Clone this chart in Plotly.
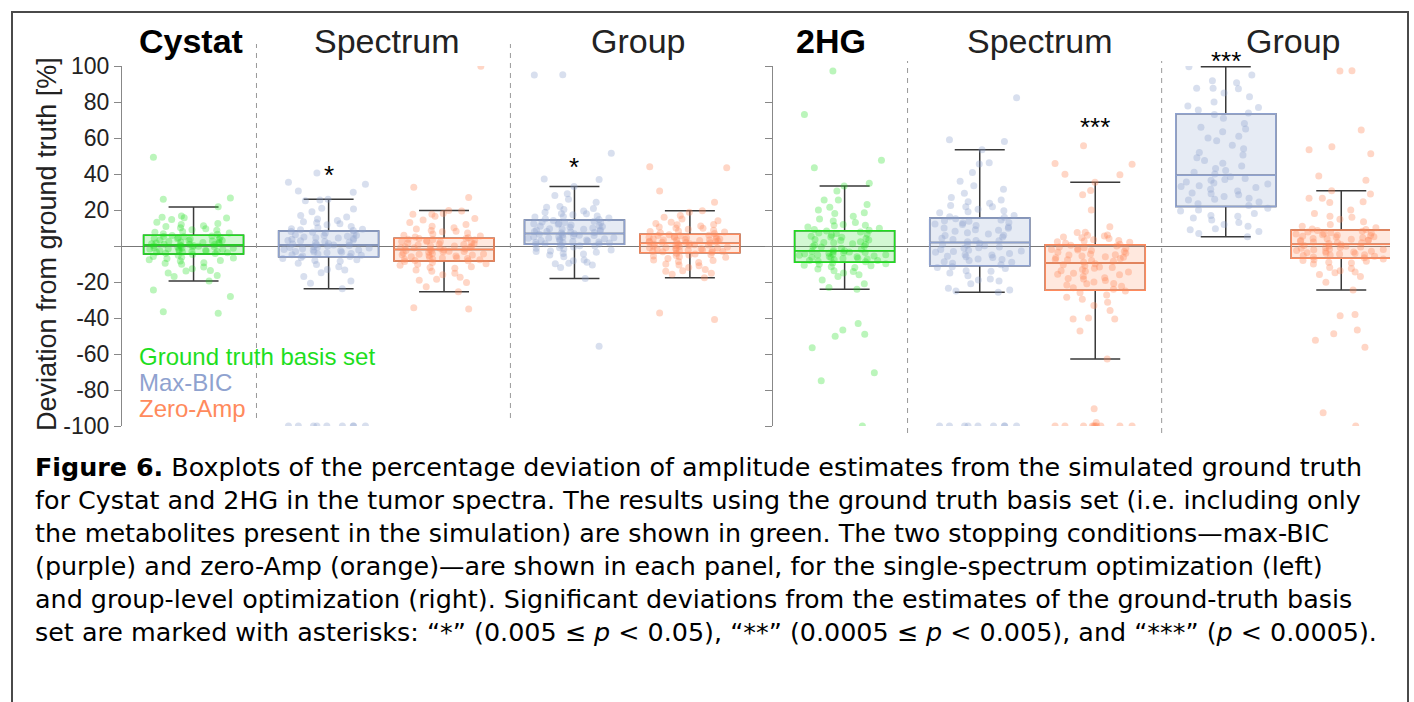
import plotly.graph_objects as go

# ---------------- data ----------------
metabolites = ["Cystat", "2HG"]
conditions = ["Ground truth basis set", "Max-BIC", "Zero-Amp"]
groups = ["GT", "Spectrum Max-BIC", "Spectrum Zero-Amp", "Group Max-BIC", "Group Zero-Amp"]

# box statistics: Cystat (5 boxes) then 2HG (5 boxes)
q1_vals = [-4.4, -6.0, -8.3, 1.0, -3.7, -9.0, -11.0, -24.6, 21.9, -6.8]
med_vals = [0.5, 0.5, -2.0, 7.0, 1.5, -2.6, 1.9, -9.4, 39.3, 1.0]
q3_vals = [6.0, 8.3, 4.3, 14.4, 6.5, 8.5, 15.6, 0.7, 73.5, 8.9]
lo_vals = [-19.4, -23.7, -25.4, -18.0, -17.6, -24.0, -25.7, -62.8, 5.2, -24.4]
hi_vals = [21.7, 26.0, 19.7, 33.0, 19.6, 33.3, 53.5, 35.4, 99.6, 30.7]
sig_labels = ["", "*", "", "*", "", "", "", "***", "***", ""]

cys_gt = [49.3, 26.7, 26.0, 21.8, 16.7, 16.0, 15.7, 15.5, 14.7, 13.2, 12.5, 12.0, 11.3, 10.8, 10.1, 9.6,
          9.0, 8.7, 8.1, 7.6, 7.2, 6.8, 6.5,
          5.8, 5.5, 5.1, 4.9, 4.6, 4.2, 3.9, 3.6, 3.3, 3.0, 2.8, 2.5, 2.2, 1.9, 1.7, 1.4, 1.2, 1.0, 0.8,
          0.6, 5.3, 4.0, 2.0, 3.1, 0.9,
          0.3, 0.1, -0.2, -0.5, -0.7, -1.0, -1.2, -1.5, -1.8, -2.0, -2.3, -2.5, -2.8, -3.0, -3.3, -3.5,
          -3.8, -4.0, -4.2, -0.4, -1.6, -2.6, -3.1, 0.0, -1.1,
          -4.7, -5.2, -5.8, -6.3, -7.0, -7.6, -8.4, -9.3, -9.6, -10.2, -11.6, -12.7, -13.6, -13.9, -15.0,
          -16.4, -17.0, -19.4, -6.6, -8.0, -24.4, -28.0, -37.3, -36.5]
cys_spec_bic = [40.6, 35.4, 34.3, 30.5, 29.8, 26.0, 25.2, 25.5, 21.0, 20.5, 17.0, 15.0, 14.2, 13.5, 12.4,
                11.8, 10.9, 10.2, 9.6, 9.0, 8.6, 12.9, 16.1, 19.0, 9.3,
                8.1, 7.6, 7.2, 6.8, 6.3, 5.9, 5.4, 5.0, 4.6, 4.1, 3.7, 3.3, 2.9, 2.5, 2.1, 1.8, 1.4, 1.1,
                0.8, 0.6, 6.0, 3.0, 4.4,
                0.3, 0.0, -0.4, -0.8, -1.1, -1.5, -1.9, -2.2, -2.6, -3.0, -3.3, -3.7, -4.1, -4.5, -4.8,
                -5.2, -5.6, -5.9, -0.9, -2.4, -3.5,
                -6.4, -7.0, -7.7, -8.5, -9.6, -10.3, -11.5, -13.3, -13.0, -14.8, -17.0, -19.4, -20.7,
                -23.7, -8.0, -100, -100, -100, -100, -100, -100, -100, -100, -100]
cys_spec_zero = [99.8, 32.6, 27.0, 19.7, 19.5, 18.1, 17.6, 17.7, 16.5, 14.5, 13.0, 12.0, 11.0, 10.2, 9.5,
                 8.6, 7.9, 7.2, 6.6, 6.0, 5.5, 5.0, 4.6, 15.3, 8.2,
                 4.1, 3.8, 3.4, 3.0, 2.7, 2.3, 2.0, 1.6, 1.3, 0.9, 0.6, 0.2, -0.1, -0.4, -0.7, -1.0, -1.3,
                 -1.6, -1.8, 2.5, 0.0, 3.6, -0.9, 1.1, 4.2,
                 -2.2, -2.5, -2.9, -3.2, -3.5, -3.9, -4.2, -4.6, -4.9, -5.3, -5.6, -6.0, -6.3, -6.7, -7.0,
                 -7.4, -7.7, -8.0, -8.2, -3.0, -5.0, -6.5, -4.4, -2.7, -7.2,
                 -8.6, -9.2, -9.9, -10.7, -11.5, -12.4, -13.3, -15.2, -16.0, -17.4, -18.5, -20.3, -22.6,
                 -25.4, -10.1, -12.0, -14.0, -19.0, -34.3, -35.0]
cys_grp_bic = [95.2, 95.0, 51.5, 37.2, 36.9, 33.0, 29.0, 28.0, 24.3, 22.0, 21.5, 20.3, 19.5, 18.7, 17.9,
               17.3, 16.7, 16.1, 15.6, 15.1, 14.7, 26.0, 18.0, 20.9, 16.4,
               14.1, 13.7, 13.3, 12.9, 12.5, 12.1, 11.7, 11.2, 10.8, 10.4, 10.0, 9.6, 9.3, 9.0, 8.7, 8.4,
               8.1, 7.8, 7.5, 7.2, 13.0, 11.0, 9.5, 8.0, 12.3,
               6.8, 6.5, 6.2, 5.9, 5.6, 5.2, 4.9, 4.6, 4.3, 4.0, 3.7, 3.4, 3.1, 2.8, 2.5, 2.2, 1.9, 1.6,
               1.3, 1.1, 5.0, 3.0, 2.0, 4.4, 6.0,
               0.8, 0.4, 0.0, -0.5, -1.0, -1.6, -2.2, -3.0, -4.1, -4.5, -5.0, -7.8, -8.2, -9.6, -9.9,
               -10.5, -12.0, -18.0, -55.7, -6.0, -3.5, -2.8, -9.0, -1.3, 0.2]
cys_grp_zero = [44.0, 43.5, 30.5, 24.3, 19.6, 18.7, 16.0, 15.0, 14.0, 13.2, 12.5, 11.8, 11.1, 10.5, 9.9,
                9.3, 8.8, 8.3, 7.8, 7.3, 6.9, 12.0, 10.0, 8.0, 17.0,
                6.3, 6.0, 5.7, 5.4, 5.1, 4.8, 4.5, 4.2, 3.9, 3.6, 3.4, 3.2, 3.0, 2.8, 2.6, 2.4, 2.2, 2.0,
                1.8, 1.6, 5.9, 4.0, 3.3, 2.1, 4.9,
                1.3, 1.0, 0.7, 0.4, 0.1, -0.2, -0.5, -0.8, -1.1, -1.4, -1.7, -2.0, -2.3, -2.6, -2.9, -3.2,
                -3.5, -0.3, -1.0, -2.1, 0.9, -3.0, -1.5, 0.5, -2.5,
                -4.0, -4.5, -5.0, -5.6, -6.3, -7.0, -7.8, -8.6, -10.0, -10.5, -12.0, -13.7, -14.0, -15.2,
                -15.7, -17.6, -37.2, -40.9, -6.0, -9.2, -11.0, -4.8, -8.0, -13.0, -5.3]
hg_gt = [97.2, 73.1, 47.6, 43.5, 34.8, 33.3, 30.5, 25.5, 25.5, 23.0, 21.5, 18.5, 18.0, 16.5, 13.9, 13.0,
         12.0, 11.2, 10.5, 9.8, 9.2, 8.8, 20.0, 15.0, 11.5,
         8.3, 7.8, 7.2, 6.6, 6.0, 5.4, 4.8, 4.2, 3.6, 3.0, 2.4, 1.8, 1.2, 0.6, 0.0, -0.6, -1.2, -1.8, -2.3,
         5.0, 2.0, -0.3, 3.3, 6.9, 0.9,
         -2.9, -3.2, -3.6, -4.0, -4.4, -4.8, -5.2, -5.6, -6.0, -6.4, -6.8, -7.2, -7.6, -8.0, -8.4, -8.8,
         -3.4, -5.0, -6.2, -7.0, -4.6, -8.1, -3.8, -5.8, -2.7,
         -9.5, -10.2, -11.0, -12.0, -13.7, -17.0, -18.9, -21.0, -23.0, -24.0, -43.0, -46.7, -50.2, -49.0,
         -56.5, -70.4, -74.8, -100, -10.7, -9.8, -15.0, -11.5, -14.2, -12.8, -16.0]
hg_spec_bic = [82.4, 59.0, 58.1, 53.5, 46.3, 45.5, 40.9, 33.5, 31.5, 29.3, 25.5, 24.6, 23.7, 21.8, 21.8,
               20.4, 19.6, 16.3, 17.0, 16.0, 18.5, 22.5, 27.0, 19.0, 36.0,
               15.2, 14.5, 13.8, 13.0, 12.2, 11.4, 10.6, 9.8, 9.0, 8.2, 7.4, 6.6, 5.8, 5.0, 4.3, 3.6, 2.9,
               2.3, 14.0, 10.0, 6.0, 8.8, 11.9, 3.0, 12.8,
               1.5, 0.8, 0.1, -0.6, -1.3, -2.0, -2.8, -3.5, -4.2, -5.0, -5.7, -6.4, -7.2, -8.0, -8.8, -9.6,
               -10.4, -3.0, -6.0, -1.0, -7.5, -4.8, -9.0, 0.5, -2.3,
               -11.5, -12.5, -13.8, -15.0, -16.5, -18.3, -18.9, -21.0, -23.5, -24.4, -25.0, -25.7, -14.0,
               -12.0, -19.5, -100, -100, -100, -100, -100, -100, -100, -100, -100]
hg_spec_zero = [55.7, 45.9, 45.4, 39.8, 39.6, 35.4, 30.9, 28.5, 20.0, 10.7, 7.6, 7.5, 6.1, 6.0, 5.0, 4.2,
                3.5, 2.8, 2.1, 1.5, 1.0, 3.0, 5.5, 4.6, 2.4,
                0.4, 0.0, -0.5, -1.0, -1.5, -2.0, -2.5, -3.0, -3.5, -4.0, -4.5, -5.0, -5.5, -6.0, -6.5,
                -7.0, -7.5, -8.0, -8.5, -9.0, -2.2, -4.8, -6.3, -1.2, -7.7,
                -9.8, -10.4, -11.0, -11.7, -12.4, -13.1, -13.8, -14.5, -15.2, -16.0, -16.8, -17.6, -18.4,
                -19.2, -20.0, -20.8, -21.6, -22.4, -23.2, -24.0, -12.0, -15.7, -18.0, -21.0, -14.0,
                -25.0, -27.2, -29.6, -31.3, -35.9, -40.0, -40.6, -40.6, -47.2, -62.8, -90.4, -98.1, -100,
                -100, -100, -100, -100, -100, -100, -100, -100, -100, -26.0, -28.5, -33.0]
hg_grp_bic = [99.6, 91.8, 90.7, 87.6, 87.6, 87.4, 82.9, 77.8, 77.0, 73.9, 85.0, 95.0, 80.0, 75.5,
              73.0, 71.0, 68.1, 66.0, 63.5, 61.0, 58.5, 56.0, 54.0, 52.0, 50.5, 49.0, 47.5, 46.0, 44.5,
              43.0, 42.0, 41.0, 40.0, 65.0, 60.0,
              38.5, 37.5, 36.5, 35.5, 34.5, 33.5, 32.5, 31.5, 30.5, 29.5, 28.5, 27.5, 26.5, 25.5, 24.5,
              23.5, 22.5, 37.0, 33.0, 29.0, 26.0, 35.0,
              21.0, 19.5, 18.0, 16.5, 15.5, 14.4, 13.0, 12.0, 11.0, 9.6, 9.0, 8.0, 7.0, 5.2, 17.0, 20.0]
hg_grp_zero = [97.4, 97.2, 64.4, 55.2, 53.5, 51.3, 38.9, 36.5, 30.7, 28.9, 26.5, 26.5, 24.6, 24.1, 16.0,
               16.5, 14.8, 13.5, 12.0, 11.0, 10.2, 9.5, 20.0, 18.0, 9.2,
               8.6, 8.2, 7.8, 7.4, 7.0, 6.6, 6.2, 5.8, 5.4, 5.0, 4.6, 4.2, 3.8, 3.4, 3.0, 2.6, 2.2, 1.8,
               1.4, 6.0, 4.0, 2.0, 7.2, 5.2, 3.2,
               0.7, 0.3, -0.1, -0.5, -0.9, -1.3, -1.7, -2.1, -2.5, -2.9, -3.3, -3.7, -4.1, -4.5, -4.9,
               -5.3, -5.7, -6.1, -6.5, -1.0, -3.0, -5.0, 0.0, -2.0, -4.0,
               -7.2, -8.0, -9.0, -10.0, -11.9, -13.7, -14.4, -14.8, -15.9, -20.2, -24.4, -38.0, -38.7,
               -46.7, -48.7, -52.4, -56.3, -92.6, -100, -7.6, -8.5, -12.5, -9.5, -17.0]

samples = [cys_gt, cys_spec_bic, cys_spec_zero, cys_grp_bic, cys_grp_zero,
           hg_gt, hg_spec_bic, hg_spec_zero, hg_grp_bic, hg_grp_zero]
y_ticks = [100, 80, 60, 40, 20, 0, -20, -40, -60, -80, -100]
y_ticktext = ["100", "80", "60", "40", "20", "", "-20", "-40", "-60", "-80", "-100"]

caption_lines = [
    "<b>Figure 6.</b> Boxplots of the percentage deviation of amplitude estimates from the simulated ground truth",
    "for Cystat and 2HG in the tumor spectra. The results using the ground truth basis set (i.e. including only",
    "the metabolites present in the simulation) are shown in green. The two stopping conditions\u2014max-BIC",
    "(purple) and zero-Amp (orange)\u2014are shown in each panel, for the single-spectrum optimization (left)",
    "and group-level optimization (right). Significant deviations from the estimates of the ground-truth basis",
    "set are marked with asterisks: \u201c*\u201d (0.005 \u2264 <i>p</i> &lt; 0.05), \u201c**\u201d (0.0005 \u2264 <i>p</i> &lt; 0.005), and \u201c***\u201d (<i>p</i> &lt; 0.0005).",
]

# ---------------- layout / style ----------------
W, H = 1414, 702
def px(x):
    return x / W
def py(y):
    return 1 - y / H

box_pos = [1.0, 2.17, 3.17, 4.3, 5.3]
box_w = 0.866
divider_pos = [1.545, 3.745]
cond_of_box = [0, 1, 2, 1, 2]
edge_col = ["rgb(30,222,30)", "rgb(143,162,207)", "rgb(255,138,92)"]
fill_col = ["rgba(30,222,30,0.2)", "rgba(143,162,207,0.22)", "rgba(255,138,92,0.2)"]
dot_col = ["rgba(30,222,30,0.3)", "rgba(143,162,207,0.35)", "rgba(255,138,92,0.35)"]
whisker_col = "#3a3a3a"
sig_px = [0, 175, 0, 167, 0, 0, 0, 127, 61, 0]   # vertical pixel position of asterisks

fig = go.Figure()
for i in range(10):
    panel = i // 5
    k = i % 5
    xa = "x" if panel == 0 else "x2"
    ya = "y" if panel == 0 else "y2"
    c = cond_of_box[k]
    pos = box_pos[k]
    # whiskers (dark)
    fig.add_trace(go.Box(x=[pos], q1=[q1_vals[i]], median=[med_vals[i]], q3=[q3_vals[i]],
                         lowerfence=[lo_vals[i]], upperfence=[hi_vals[i]], width=box_w,
                         whiskerwidth=0.5, boxpoints=False, fillcolor="rgba(0,0,0,0)",
                         line=dict(color=whisker_col, width=1.5), xaxis=xa, yaxis=ya,
                         showlegend=False, hoverinfo="skip"))
    # coloured box
    fig.add_trace(go.Box(x=[pos], q1=[q1_vals[i]], median=[med_vals[i]], q3=[q3_vals[i]],
                         lowerfence=[q1_vals[i]], upperfence=[q3_vals[i]], width=box_w,
                         whiskerwidth=0, boxpoints=False, fillcolor=fill_col[c],
                         line=dict(color=edge_col[c], width=1.5), xaxis=xa, yaxis=ya,
                         showlegend=False, hoverinfo="skip"))
    # jittered sample points, split into value bands so the jitter spreads evenly
    vals = samples[i]
    bands = [
        [v for v in vals if v < lo_vals[i]],
        [v for v in vals if lo_vals[i] <= v < q1_vals[i]],
        [v for v in vals if q1_vals[i] <= v <= q3_vals[i]],
        [v for v in vals if q3_vals[i] < v <= hi_vals[i]],
        [v for v in vals if v > hi_vals[i]],
    ]
    for band in bands:
        if not band:
            continue
        fig.add_trace(go.Box(x0=pos, y=band, width=box_w, boxpoints="all", jitter=0.95, pointpos=0,
                             fillcolor="rgba(0,0,0,0)", line=dict(color="rgba(0,0,0,0)", width=0),
                             marker=dict(size=7, color=dot_col[c], line=dict(width=0)),
                             xaxis=xa, yaxis=ya, showlegend=False, hoverinfo="skip"))

axis_font = dict(family="Liberation Sans, Arial, sans-serif", size=23, color="#222222")
ydom = [py(426), py(66)]
fig.update_layout(
    width=W, height=H, autosize=False, paper_bgcolor="white", plot_bgcolor="rgba(0,0,0,0)",
    margin=dict(l=0, r=0, t=0, b=0, pad=0, autoexpand=False), boxmode="overlay",
    xaxis=dict(domain=[px(122), px(773)], range=[0.38, 6.02], visible=False, automargin=False),
    xaxis2=dict(domain=[px(773), px(1390)], range=[0.38, 5.722], visible=False, automargin=False),
    yaxis=dict(domain=ydom, range=[-100, 100], anchor="x", tickvals=y_ticks, ticktext=y_ticktext,
               ticks="outside", ticklen=7, tickcolor="#888888", showline=True, linecolor="#888888",
               linewidth=1, showgrid=False, zeroline=True, zerolinecolor="#777777", zerolinewidth=1,
               tickfont=axis_font, automargin=False),
    yaxis2=dict(domain=ydom, range=[-100, 100], anchor="x2", tickvals=y_ticks, showticklabels=False,
                ticks="outside", ticklen=7, tickcolor="#888888", showline=True, linecolor="#888888",
                linewidth=1, showgrid=False, zeroline=True, zerolinecolor="#777777", zerolinewidth=1,
                automargin=False),
)

shapes = [dict(type="rect", xref="paper", yref="paper", x0=px(12), x1=px(1408), y0=-0.05, y1=py(12),
               line=dict(color="#4a4a4a", width=2), fillcolor="rgba(0,0,0,0)")]
for d in divider_pos:
    shapes.append(dict(type="line", xref="x", yref="paper", x0=d, x1=d, y0=py(418), y1=py(44),
                       line=dict(color="#999999", width=1, dash="5px,5px")))
    shapes.append(dict(type="line", xref="x2", yref="paper", x0=d, x1=d, y0=py(433), y1=py(61),
                       line=dict(color="#999999", width=1, dash="5px,5px")))
fig.update_layout(shapes=shapes)

ann = []
title_font = "Liberation Sans, Arial, sans-serif"
headers = [(metabolites[0], 191, True), ("Spectrum", 387, False), ("Group", 638, False),
           (metabolites[1], 831, True), ("Spectrum", 1040, False), ("Group", 1293, False)]
for txt, xc, bold in headers:
    ann.append(dict(text=("<b>%s</b>" % txt) if bold else txt, x=px(xc), y=py(41), xref="paper",
                    yref="paper", xanchor="center", yanchor="middle", showarrow=False,
                    font=dict(family=title_font, size=34,
                              color="#000000" if bold else "#222222")))
ann.append(dict(text="Deviation from ground truth [%]", x=px(47), y=py(244), xref="paper", yref="paper",
                textangle=-90, showarrow=False, xanchor="center", yanchor="middle",
                font=dict(family=title_font, size=27, color="#222222")))
for j, (txt, yc) in enumerate(zip(conditions, [356, 382, 408])):
    ann.append(dict(text=txt, x=px(137), y=py(yc), xref="paper", yref="paper", xanchor="left",
                    yanchor="middle", showarrow=False,
                    font=dict(family=title_font, size=24, color=edge_col[j])))
for i in range(10):
    if sig_labels[i]:
        panel = i // 5
        ann.append(dict(text=sig_labels[i], x=box_pos[i % 5], y=py(sig_px[i]),
                        xref="x" if panel == 0 else "x2", yref="paper",
                        xanchor="center", yanchor="middle", showarrow=False,
                        font=dict(family=title_font, size=26, color="#000000")))
# caption: one multi-line text (line pitch = 1.3 x font size)
ann.append(dict(text="<br>".join(caption_lines), x=px(33), y=py(449.5), xref="paper", yref="paper",
                xanchor="left", yanchor="top", align="left", showarrow=False,
                font=dict(family="DejaVu Sans, sans-serif", size=25.4, color="#000000")))
fig.update_layout(annotations=ann)

post_js = ("document.body.style.margin='0';document.body.style.padding='0';"
           "var gd=document.getElementById('{plot_id}');gd.style.position='absolute';"
           "gd.style.left='0px';gd.style.top='0px';")
fig.write_html("out.html", post_script=post_js, config={"displayModeBar": False})
